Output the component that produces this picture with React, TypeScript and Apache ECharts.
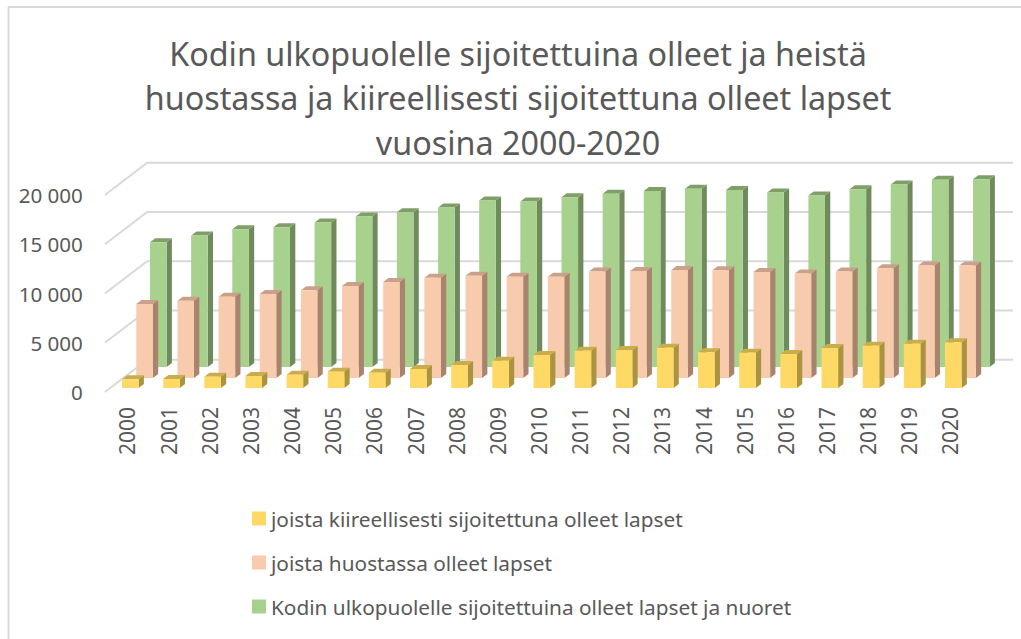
import React, { useEffect, useRef } from "react";
import * as echarts from "echarts";

const years = ["2000","2001","2002","2003","2004","2005","2006","2007","2008","2009","2010","2011","2012","2013","2014","2015","2016","2017","2018","2019","2020"];
const outOfHome = [12670,13340,13990,14190,14660,15270,15720,16190,16900,16800,17240,17580,17880,18090,17980,17710,17400,18050,18520,19000,19070];
const custody = [7520,7850,8260,8530,8910,9350,9750,10190,10390,10290,10290,10800,10870,10970,10940,10770,10600,10800,11150,11410,11410];
const emergency = [880,915,1150,1220,1350,1660,1555,1930,2340,2770,3350,3790,3860,4090,3630,3590,3450,4060,4300,4500,4640];
const yTicks = [0,5000,10000,15000,20000];
const titleLines = ["Kodin ulkopuolelle sijoitettuina olleet ja heistä","huostassa ja kiireellisesti sijoitettuna olleet lapset","vuosina 2000-2020"];
const nameEmergency = "joista kiireellisesti sijoitettuna olleet lapset";
const nameCustody = "joista huostassa olleet lapset";
const nameOut = "Kodin ulkopuolelle sijoitettuina olleet lapset ja nuoret";

const FONT = "'Noto Sans', sans-serif";
const TEXT = "#595959";
const GRID = "#D9D9D9";

const bar3d = (dx: number, dy: number, front: string, side: string, top: string) =>
  (_p: any, api: any) => {
    const W = 16.6, DX = 5.3, DY = 4;
    const c = api.coord([api.value(0), api.value(1)]);
    const b = api.coord([api.value(0), 0]);
    const x = c[0] + dx, t = c[1] + dy, base = b[1] + dy;
    return {
      type: "group",
      children: [
        { type: "polygon", shape: { points: [[x + W, t], [x + W + DX, t - DY], [x + W + DX, base - DY], [x + W, base]] }, style: { fill: side } },
        { type: "polygon", shape: { points: [[x, t], [x + DX, t - DY], [x + W + DX, t - DY], [x + W, t]] }, style: { fill: top } },
        { type: "rect", shape: { x, y: t, width: W, height: base - t }, style: { fill: front } },
      ],
    };
  };

const gridLine = (p: any, api: any) => {
  const cs = p.coordSys;
  const y = api.coord([0, api.value(1)])[1];
  return {
    type: "polyline",
    shape: { points: [[cs.x - 2, y], [cs.x + 40.3, y - 32.3], [cs.x + cs.width + 42, y - 32.3]] },
    style: { stroke: GRID, lineWidth: 2, fill: "none" },
  };
};

const pairs = (a: number[]) => a.map((v, i) => [i, v]);

export default function App() {
  const ref = useRef<HTMLDivElement>(null);
  useEffect(() => {
    const chart = echarts.init(ref.current!, null, { renderer: "svg" });
    chart.setOption({
      animation: false,
      backgroundColor: "#fff",
      title: {
        text: titleLines.join("\n"),
        left: 513,
        top: 26,
        textAlign: "center",
        textStyle: { fontFamily: FONT, fontSize: 32.3, fontWeight: "normal", color: TEXT, lineHeight: 44.3 },
      },
      graphic: [
        { type: "line", shape: { x1: 8.5, y1: 7, x2: 8.5, y2: 639 }, style: { stroke: GRID, lineWidth: 2 } },
        { type: "line", shape: { x1: 8, y1: 7, x2: 1021, y2: 7 }, style: { stroke: GRID, lineWidth: 2 } },
      ],
      legend: {
        data: [nameEmergency, nameCustody, nameOut],
        orient: "vertical",
        left: 252,
        top: 508,
        padding: 0,
        itemWidth: 14,
        itemHeight: 14,
        itemGap: 23,
        icon: "rect",
        selectedMode: false,
        textStyle: { fontFamily: FONT, fontSize: 20.8, color: TEXT },
      },
      grid: { left: 106.9, top: 195, width: 864.15, height: 197, containLabel: false },
      xAxis: {
        type: "category",
        data: years,
        axisLine: { show: false },
        axisTick: { show: false },
        splitLine: { show: false },
        axisLabel: { rotate: 90, interval: 0, margin: 15, fontFamily: FONT, fontSize: 21, color: TEXT },
      },
      yAxis: {
        type: "value",
        min: 0,
        max: 20000,
        interval: 5000,
        axisLine: { show: false },
        axisTick: { show: false },
        splitLine: { show: false },
        axisLabel: {
          margin: 24,
          fontFamily: FONT,
          fontSize: 20.6,
          color: TEXT,
          formatter: (v: number) => String(v).replace(/\B(?=(\d{3})+$)/g, " "),
        },
      },
      series: [
        { type: "custom", name: "grid", silent: true, data: yTicks.map((v) => [0, v]), encode: { x: 0, y: 1 }, renderItem: gridLine },
        { type: "custom", name: nameOut, data: pairs(outOfHome), encode: { x: 0, y: 1 }, itemStyle: { color: "#A9D18E" }, renderItem: bar3d(-5.5 + 28, -25, "#A9D18E", "#6F8A5C", "#7F9F69") },
        { type: "custom", name: nameCustody, data: pairs(custody), encode: { x: 0, y: 1 }, itemStyle: { color: "#F8CBAD" }, renderItem: bar3d(-5.5 + 14.3, -14, "#F8CBAD", "#A8846F", "#C9A08A") },
        { type: "custom", name: nameEmergency, data: pairs(emergency), encode: { x: 0, y: 1 }, itemStyle: { color: "#FFD966" }, renderItem: bar3d(-5.5, -4, "#FFD966", "#AB9440", "#C9AC4B") },
      ],
    });
    return () => chart.dispose();
  }, []);
  return <div ref={ref} style={{ position: "absolute", left: 0, top: 0, width: 1021, height: 639 }} />;
}
